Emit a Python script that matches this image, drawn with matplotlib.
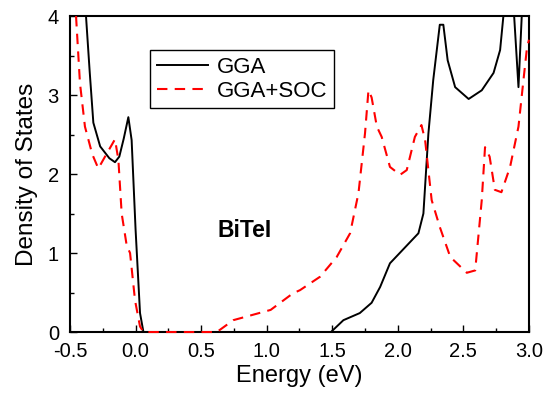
import numpy as np
import matplotlib
matplotlib.use("Agg")
import matplotlib.pyplot as plt
from matplotlib.ticker import MultipleLocator

plt.rcParams['font.family'] = ['Liberation Sans', 'DejaVu Sans']

# GGA (solid black)
gga_e = [-0.40, -0.378, -0.35, -0.322, -0.27, -0.20, -0.157, -0.124, -0.09, -0.055, -0.03,
         0.0, 0.034, 0.06, 0.5, 1.0, 1.49, 1.585, 1.71, 1.80, 1.865, 1.94, 2.02, 2.157,
         2.195, 2.233, 2.27, 2.32, 2.347, 2.38, 2.437, 2.54, 2.64, 2.73, 2.78, 2.805,
         2.85, 2.887, 2.92, 2.945, 2.97, 3.0]
gga_dos = [5.0, 4.0, 3.3, 2.65, 2.35, 2.2, 2.15, 2.22, 2.45, 2.72, 2.43,
           1.3, 0.24, 0.0, 0.0, 0.0, 0.0, 0.15, 0.24, 0.37, 0.57, 0.87, 1.01, 1.25,
           1.5, 2.51, 3.19, 3.89, 3.89, 3.44, 3.1, 2.95, 3.06, 3.28, 3.57, 4.0,
           4.5, 4.0, 3.1, 4.0, 4.6, 4.8]

# GGA+SOC (dashed red)
soc_e = [-0.454, -0.424, -0.386, -0.33, -0.284, -0.233, -0.157, -0.131, -0.106,
         -0.068, -0.042, -0.004, 0.034, 0.06, 0.3, 0.62, 0.745, 1.03, 1.20, 1.254, 1.407,
         1.534, 1.636, 1.70, 1.75, 1.776, 1.80, 1.84, 1.877, 1.94, 2.017, 2.068, 2.13,
         2.18, 2.208, 2.258, 2.32, 2.40, 2.526, 2.59, 2.64, 2.665, 2.70, 2.74, 2.79,
         2.856, 2.92, 2.958, 2.985, 3.0]
soc_dos = [4.0, 3.15, 2.6, 2.25, 2.07, 2.22, 2.44, 2.18, 1.5,
           1.1, 1.0, 0.4, 0.07, 0.0, 0.0, 0.0, 0.15, 0.28, 0.49, 0.53, 0.70,
           0.95, 1.25, 1.76, 2.52, 3.06, 2.97, 2.6, 2.47, 2.09, 1.99, 2.05, 2.47,
           2.62, 2.43, 1.67, 1.33, 0.95, 0.75, 0.78, 1.67, 2.34, 2.22, 1.80, 1.77,
           2.09, 2.6, 3.19, 3.6, 3.7]

x_ticks = [-0.5, 0.0, 0.5, 1.0, 1.5, 2.0, 2.5, 3.0]
y_ticks = [0, 1, 2, 3, 4]

fig = plt.figure(figsize=(5.49, 4.01), dpi=100)
ax = fig.add_axes([0.1275, 0.172, 0.836, 0.788])

ax.plot(gga_e, gga_dos, color='black', lw=1.4, label='GGA', zorder=3)
ax.plot(soc_e, soc_dos, color='red', lw=1.5, ls=(0, (5, 3.5)), label='GGA+SOC',
        zorder=3, clip_on=False)

ax.set_xlim(-0.5, 3.0)
ax.set_ylim(0, 4)
ax.set_xticks(x_ticks)
ax.set_xticklabels([f'{v:.1f}' for v in x_ticks])
ax.set_yticks(y_ticks)
ax.set_yticklabels([str(v) for v in y_ticks])
ax.xaxis.set_minor_locator(MultipleLocator(0.25))
ax.yaxis.set_minor_locator(MultipleLocator(0.5))
ax.tick_params(which='both', direction='in', top=False, right=False, labelsize=14.5)
ax.tick_params(which='major', length=5, width=1)
ax.tick_params(which='minor', length=3, width=1)
ax.tick_params(axis='x', which='major', pad=7)
ax.tick_params(axis='y', which='major', pad=8)
for s in ax.spines.values():
    s.set_linewidth(1.5)

ax.set_xlabel('Energy (eV)', fontsize=17, labelpad=3)
ax.set_ylabel('Density of States', fontsize=17.5, labelpad=7)

ax.text(0.835, 1.29, 'BiTeI', fontsize=16.5, fontweight='bold', ha='center', va='center')

leg = ax.legend(loc='upper left', bbox_to_anchor=(0.174, 0.892), fontsize=16,
                frameon=True, fancybox=False, edgecolor='black', framealpha=1,
                borderaxespad=0, handlelength=2.3, handletextpad=0.4,
                borderpad=0.3, labelspacing=0.12)
leg.get_frame().set_linewidth(1.0)
leg.set_zorder(5)

fig.savefig('out.png', dpi=100)
